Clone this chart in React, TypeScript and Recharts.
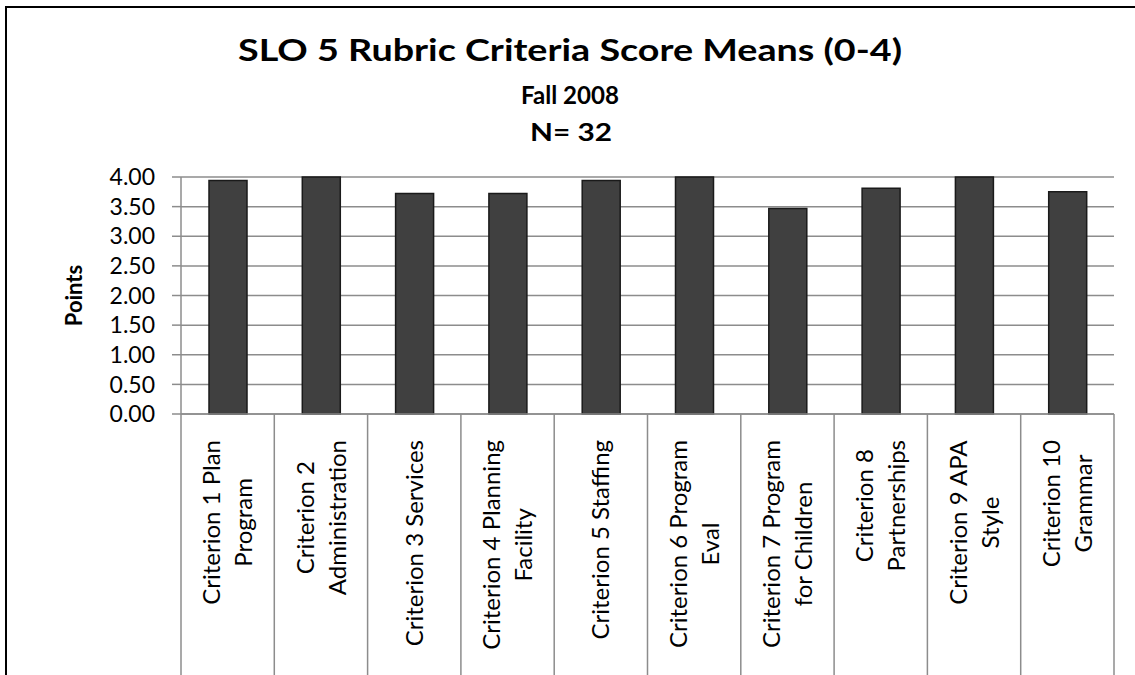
import React from "react";
import { BarChart, Bar, XAxis, YAxis, CartesianGrid } from "recharts";

const categories = [
  "Criterion 1 Plan\nProgram",
  "Criterion 2\nAdministration",
  "Criterion 3 Services",
  "Criterion 4 Planning\nFacility",
  "Criterion 5 Staffing",
  "Criterion 6 Program\nEval",
  "Criterion 7 Program\nfor Children",
  "Criterion 8\nPartnerships",
  "Criterion 9 APA\nStyle",
  "Criterion 10\nGrammar",
];
const means = [3.94, 4.0, 3.72, 3.72, 3.94, 4.0, 3.47, 3.81, 4.0, 3.75];
const yTicks = [0, 0.5, 1, 1.5, 2, 2.5, 3, 3.5, 4];
const titleLines = ["SLO 5 Rubric Criteria Score Means (0-4)", "Fall 2008", "N= 32"];

const data = categories.map((name, i) => ({ name, mean: means[i] }));

const W = 1135;
const H = 675;
const MARGIN = { top: 177, right: 21, bottom: 0, left: 51 };
const YAXIS_W = 130;
const XAXIS_H = 261;
const PLOT_W = W - MARGIN.left - MARGIN.right - YAXIS_W;
const BAND = PLOT_W / categories.length;

const FONT = "Lato, 'Open Sans', sans-serif";
const LABEL_SIZE = 24;
const LINE_H = 32;
const GRID = "#8c8c8c";

let ctx: CanvasRenderingContext2D | null = null;
const measure = (s: string) => {
  if (!ctx) ctx = document.createElement("canvas").getContext("2d");
  if (!ctx) return s.length * LABEL_SIZE * 0.5;
  ctx.font = `${LABEL_SIZE}px ${FONT}`;
  return ctx.measureText(s).width;
};

// category label: rotated, lines centred on each other, longest line starts just under the axis
const CategoryTick = ({ x, y, payload, index }: any) => {
  const lines = String(payload.value).split("\n");
  const longest = Math.max(...lines.map(measure));
  const mid = y + 26 + longest / 2;
  const last = index === categories.length - 1;
  return (
    <g>
      <line x1={x - BAND / 2} x2={x - BAND / 2} y1={y} y2={y + XAXIS_H} stroke={GRID} strokeWidth={1.5} />
      {last && <line x1={x + BAND / 2} x2={x + BAND / 2} y1={y} y2={y + XAXIS_H} stroke={GRID} strokeWidth={1.5} />}
      <g transform={`translate(${x},${mid}) rotate(-90)`}>
        {lines.map((l, i) => (
          <text
            key={i}
            x={0}
            y={(i - (lines.length - 1) / 2) * LINE_H + LABEL_SIZE * 0.36}
            textAnchor="middle"
            fontFamily={FONT}
            fontSize={LABEL_SIZE}
            fill="#000"
          >
            {l}
          </text>
        ))}
      </g>
    </g>
  );
};

const PointsLabel = ({ viewBox }: any) => {
  const cx = viewBox.x + 22;
  const cy = viewBox.y + viewBox.height / 2;
  return (
    <text
      transform={`translate(${cx},${cy}) rotate(-90)`}
      textAnchor="middle"
      dominantBaseline="central"
      fontFamily={FONT}
      fontWeight="bold"
      fontSize={22}
      fill="#000"
    >
      Points
    </text>
  );
};

export default function App() {
  return (
    <div style={{ position: "absolute", left: 0, top: 0, width: W, height: H, overflow: "hidden", background: "#fff" }}>
      <div
        style={{
          position: "absolute",
          left: 5,
          top: 6,
          width: 1200,
          height: 800,
          border: "2px solid #000",
        }}
      />
      <svg style={{ position: "absolute", left: 0, top: 0 }} width={W} height={160}>
        <text
          x={570}
          y={61}
          textAnchor="middle"
          fontFamily={FONT}
          fontWeight="bold"
          fontSize={31}
          textLength={664}
          lengthAdjust="spacingAndGlyphs"
        >
          {titleLines[0]}
        </text>
        <text
          x={570}
          y={104}
          textAnchor="middle"
          fontFamily={FONT}
          fontWeight="bold"
          fontSize={25}
          textLength={98}
          lengthAdjust="spacingAndGlyphs"
        >
          {titleLines[1]}
        </text>
        <text
          x={571}
          y={141}
          textAnchor="middle"
          fontFamily={FONT}
          fontWeight="bold"
          fontSize={25}
          textLength={82}
          lengthAdjust="spacingAndGlyphs"
        >
          {titleLines[2]}
        </text>
      </svg>
      <div style={{ position: "absolute", left: 0, top: 0 }}>
        <BarChart width={W} height={H} data={data} margin={MARGIN}>
          <CartesianGrid vertical={false} stroke={GRID} strokeWidth={1.5} />
          <XAxis
            dataKey="name"
            height={XAXIS_H}
            interval={0}
            tickLine={false}
            tickSize={0}
            tickMargin={0}
            axisLine={{ stroke: GRID, strokeWidth: 1.5 }}
            tick={<CategoryTick />}
          />
          <YAxis
            width={YAXIS_W}
            domain={[0, 4]}
            ticks={yTicks}
            interval={0}
            tickSize={9}
            tickMargin={17}
            tickFormatter={(v: number) => v.toFixed(2)}
            axisLine={{ stroke: GRID, strokeWidth: 1.5 }}
            tickLine={{ stroke: GRID, strokeWidth: 1.5 }}
            tick={{ fontFamily: FONT, fontSize: 23, fill: "#000" }}
            label={<PointsLabel />}
          />
          <Bar dataKey="mean" fill="#404040" stroke="#1a1a1a" strokeWidth={1.5} barSize={38} isAnimationActive={false} />
        </BarChart>
      </div>
    </div>
  );
}
